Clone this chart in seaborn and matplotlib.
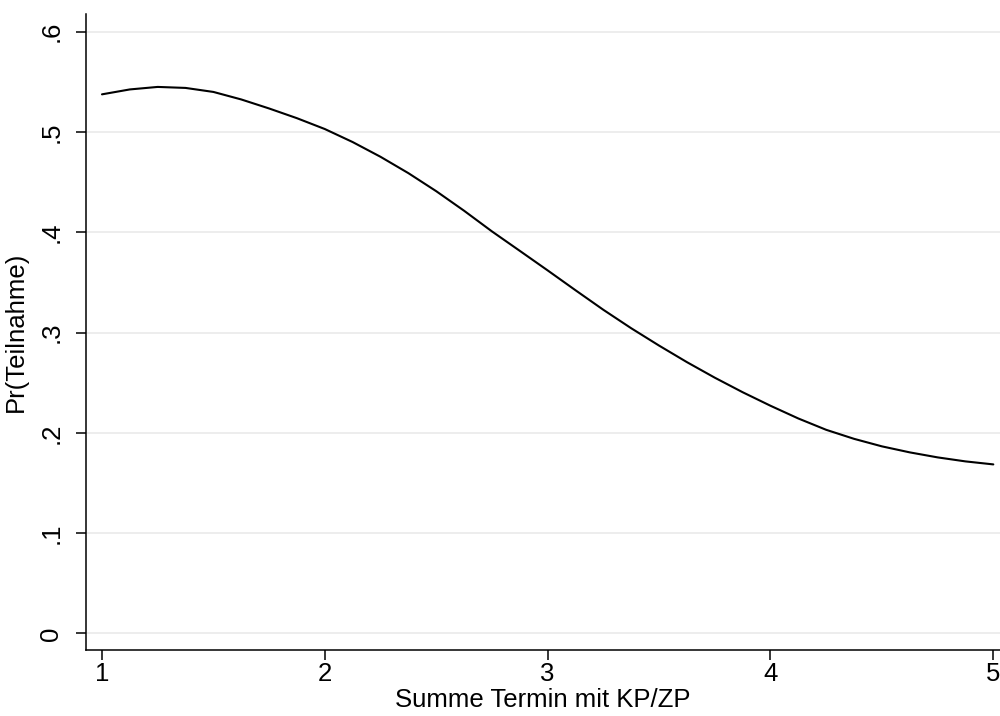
import matplotlib
matplotlib.use("Agg")
import matplotlib.pyplot as plt
import seaborn as sns
import pandas as pd

# Data
summe_termin = [1.000, 1.125, 1.250, 1.375, 1.500, 1.625, 1.750, 1.875, 2.000,
                2.125, 2.250, 2.375, 2.500, 2.625, 2.750, 2.875, 3.000,
                3.125, 3.250, 3.375, 3.500, 3.625, 3.750, 3.875, 4.000,
                4.125, 4.250, 4.375, 4.500, 4.625, 4.750, 4.875, 5.000]
pr_teilnahme = [0.5376, 0.5425, 0.5450, 0.5440, 0.5400, 0.5325, 0.5235, 0.5138, 0.5030,
                0.4900, 0.4753, 0.4590, 0.4410, 0.4215, 0.4009, 0.3815, 0.3620,
                0.3422, 0.3227, 0.3043, 0.2870, 0.2705, 0.2550, 0.2405, 0.2270,
                0.2143, 0.2030, 0.1940, 0.1865, 0.1805, 0.1755, 0.1715, 0.1685]

x_ticks = [1, 2, 3, 4, 5]
y_ticks = [0, 0.1, 0.2, 0.3, 0.4, 0.5, 0.6]
y_tick_labels = ["0", ".1", ".2", ".3", ".4", ".5", ".6"]

df = pd.DataFrame({"x": summe_termin, "y": pr_teilnahme})

sns.set_style("white")
plt.rcParams["font.family"] = ["Liberation Sans", "DejaVu Sans"]

fig = plt.figure(figsize=(10, 7.16), dpi=100)
ax = fig.add_axes([0.0855, 0.0922, 1.0 - 0.0855, 0.9804 - 0.0922])

ax.grid(False)
for yt in y_ticks:
    ax.axhline(yt, color="#ececec", linewidth=1.3, zorder=0)

sns.lineplot(data=df, x="x", y="y", ax=ax, color="black", linewidth=1.5, zorder=3)

ax.set_xlim(0.926, 5.03)
ax.set_ylim(-0.0166, 0.6177)
ax.set_xticks(x_ticks)
ax.set_xticklabels([str(t) for t in x_ticks])
ax.set_yticks(y_ticks)
ax.set_yticklabels(y_tick_labels, rotation=90, va="center")

for side in ["top", "right"]:
    ax.spines[side].set_visible(False)
for side in ["left", "bottom"]:
    ax.spines[side].set_color("black")
    ax.spines[side].set_linewidth(1.1)

ax.tick_params(axis="both", direction="out", length=7, width=1.1, color="black",
               labelsize=18.5, labelcolor="black", left=True, bottom=True)
ax.tick_params(axis="y", pad=9)
ax.tick_params(axis="x", pad=2)

ax.set_xlabel("Summe Termin mit KP/ZP", fontsize=18.5, labelpad=1, color="black")
ax.set_ylabel("Pr(Teilnahme)", fontsize=18.5, labelpad=8, color="black")

fig.savefig("out.png", dpi=100)
